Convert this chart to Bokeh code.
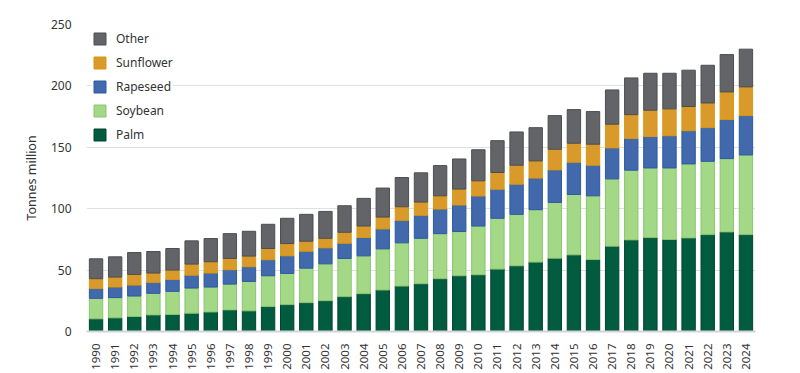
import math
from bokeh.plotting import figure
from bokeh.models import Range1d, FactorRange, Legend, LegendItem
from bokeh.embed import file_html
from bokeh.resources import INLINE

years = [str(y) for y in range(1990, 2025)]

palm = [10.3, 11.1, 12.2, 13.5, 13.8, 14.9, 15.9, 17.6, 16.8, 20.3, 21.9, 23.5, 25.1, 28.4, 30.8,
        33.8, 37.0, 38.9, 43.0, 45.4, 46.2, 50.8, 53.5, 56.5, 59.7, 62.4, 58.6, 69.5, 74.6, 76.5,
        74.9, 76.2, 78.9, 81.1, 78.9]
soybean = [16.7, 16.5, 16.7, 17.6, 18.9, 20.5, 20.3, 21.0, 24.0, 25.1, 25.4, 28.1, 30.0, 31.1, 30.8,
           33.5, 35.2, 37.0, 36.7, 36.0, 39.7, 41.4, 41.9, 42.7, 45.4, 49.2, 51.9, 54.8, 56.8, 56.7,
           58.3, 60.3, 59.7, 59.7, 64.9]
rapeseed = [8.1, 8.6, 8.9, 8.9, 9.7, 10.5, 11.4, 11.7, 11.9, 13.0, 14.3, 13.8, 13.0, 12.4, 14.9,
            16.2, 18.3, 18.7, 20.0, 21.6, 24.4, 23.7, 24.6, 25.7, 26.5, 26.2, 24.9, 25.2, 25.8, 25.6,
            26.2, 27.0, 27.4, 31.8, 32.0]
sunflower = [7.9, 8.1, 8.7, 7.6, 7.6, 9.0, 9.2, 9.2, 8.7, 9.2, 10.0, 8.1, 7.8, 8.9, 9.4,
             9.7, 11.1, 10.8, 10.8, 13.0, 12.4, 13.6, 15.4, 14.0, 16.8, 15.5, 17.1, 19.3, 19.4, 21.4,
             21.9, 19.7, 20.1, 22.5, 23.4]
other = [16.2, 16.5, 17.8, 17.5, 17.6, 18.9, 18.9, 20.2, 20.2, 19.7, 20.6, 21.9, 21.9, 21.6, 22.5,
         23.6, 23.8, 23.8, 24.6, 24.5, 25.3, 25.9, 27.1, 27.1, 27.4, 27.4, 26.6, 27.9, 29.9, 30.1,
         29.0, 29.6, 30.7, 30.4, 30.7]

series = ["Palm", "Soybean", "Rapeseed", "Sunflower", "Other"]
fills = ["#005b3f", "#a3d886", "#4169ab", "#d99a2b", "#636468"]
lines = ["#00452f", "#8cc471", "#2b5aa3", "#d79a10", "#4d4e52"]

data = {"years": years, "Palm": palm, "Soybean": soybean, "Rapeseed": rapeseed,
        "Sunflower": sunflower, "Other": other}

FONT = "Noto Sans"
TXT = "#333333"

p = figure(frame_width=669, frame_height=307, x_range=FactorRange(*years, range_padding=0),
           y_range=Range1d(0, 250), output_backend="svg", toolbar_location=None,
           min_border_left=86, min_border_right=45, min_border_top=24, min_border_bottom=42)

renderers = p.vbar_stack(series, x="years", width=0.7, source=data,
                         fill_color=fills, line_color=lines, line_width=1)

p.outline_line_color = None
p.xgrid.grid_line_color = None
p.ygrid.grid_line_color = "#e0e0e0"
p.ygrid.grid_line_width = 1

p.yaxis.ticker = [0, 50, 100, 150, 200, 250]
p.yaxis.axis_line_color = None
p.yaxis.major_tick_line_color = None
p.yaxis.minor_tick_line_color = None
p.yaxis.major_label_standoff = 9
p.yaxis.major_label_text_font = FONT
p.yaxis.major_label_text_font_size = "12px"
p.yaxis.major_label_text_color = TXT
p.yaxis.axis_label = "Tonnes million"
p.yaxis.axis_label_text_font = FONT
p.yaxis.axis_label_text_font_size = "12.5px"
p.yaxis.axis_label_text_font_style = "normal"
p.yaxis.axis_label_text_color = TXT
p.yaxis.axis_label_standoff = 8

p.xaxis.axis_line_color = "#d4d4d4"
p.xaxis.axis_line_width = 2
p.xaxis.major_tick_line_color = None
p.xaxis.minor_tick_line_color = None
p.xaxis.major_label_orientation = math.pi / 2
p.xaxis.major_label_standoff = 6
p.xaxis.major_label_text_font = FONT
p.xaxis.major_label_text_font_size = "11.5px"
p.xaxis.major_label_text_color = TXT

items = [LegendItem(label=s, renderers=[r]) for s, r in zip(series, renderers)][::-1]
legend = Legend(items=items, location="top_left", margin=6, padding=7, spacing=7,
                glyph_width=15, glyph_height=15, label_standoff=9,
                label_text_font=FONT, label_text_font_size="12px", label_text_color=TXT,
                background_fill_color="white", background_fill_alpha=1.0,
                border_line_color=None)
p.add_layout(legend, "center")

open("out.html", "w").write(file_html(p, INLINE))
